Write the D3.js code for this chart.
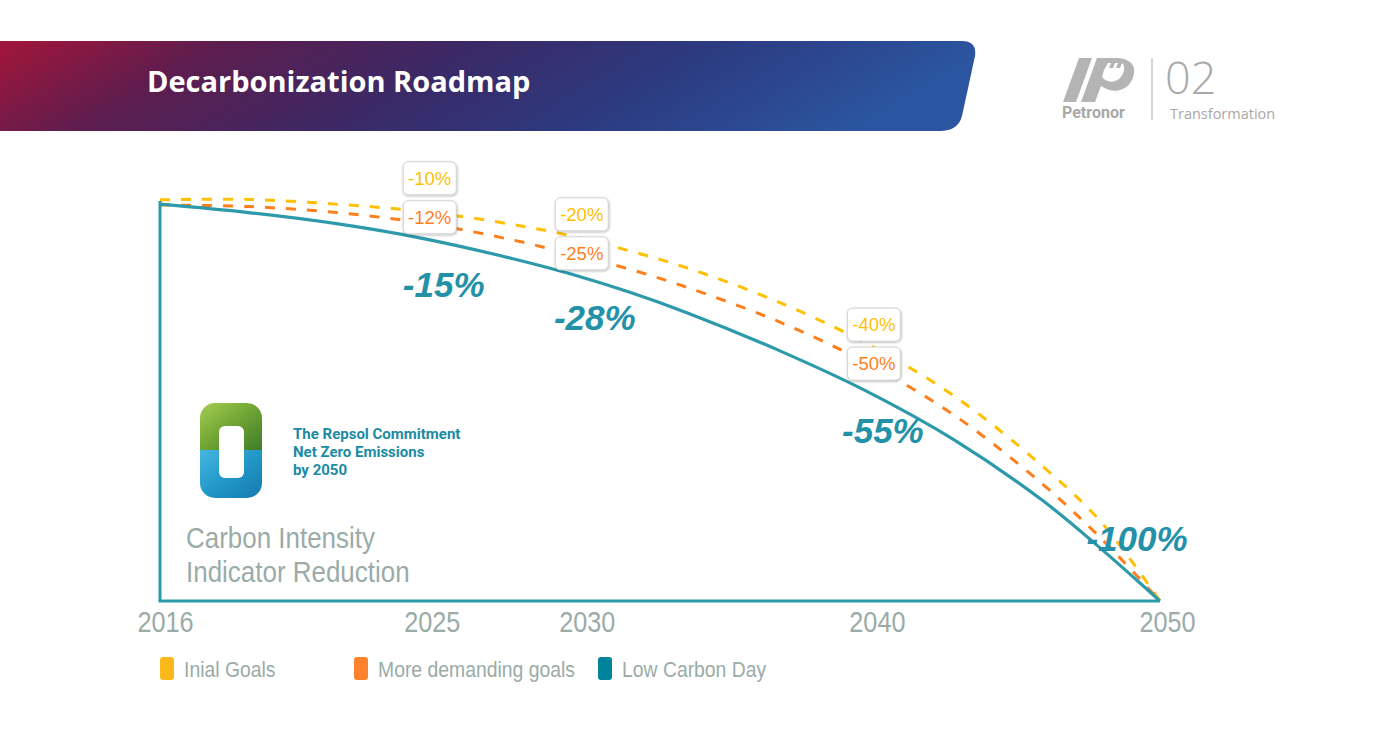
<!DOCTYPE html>
<html>
<head>
<meta charset="utf-8">
<script src="https://cdn.jsdelivr.net/npm/d3@7/dist/d3.min.js"></script>
<style>
  html, body { margin: 0; padding: 0; background: #ffffff; }
  svg { display: block; }
</style>
</head>
<body>
<svg id="chart" width="1382" height="754"></svg>
<script>
// ---------------- DATA ----------------
const years = [2016, 2019, 2022, 2025, 2028, 2030, 2032, 2034, 2037, 2040, 2043, 2046, 2048, 2050];
const initialGoals   = [100.8, 100.9, 99.7, 97.8, 94.6, 91.7, 87.9, 83.5, 75.2, 64.8, 51.5, 33.9, 19.8, 0];
const demandingGoals = [99.5, 99.1, 97.6, 94.9, 90.7, 87.1, 83.3, 78.6, 70.3, 59.9, 46.7, 29.4, 15.7, 0];
const lowCarbonDay   = [99.7, 97.6, 94.8, 91.0, 86.0, 82.1, 77.5, 72.2, 63.1, 52.8, 40.5, 25.3, 13.1, 0];

const tickYears = [2016, 2025, 2030, 2040, 2050];

const goalYears = [2025, 2030, 2040];
const initialLabels = ["-10%", "-20%", "-40%"];
const demandingLabels = ["-12%", "-25%", "-50%"];

const lowCarbonYears = [2025, 2030, 2040, 2050];
const lowCarbonLabels = ["-15%", "-28%", "-55%", "-100%"];

const legendItems = ["Inial Goals", "More demanding goals", "Low Carbon Day"];

// ---------------- LAYOUT / STYLE ----------------
const COL_Y = "#ffc000", COL_O = "#fd7f1c", COL_T = "#2d9aab", COL_TT = "#2391a8";
const GRAY = "#9aaba8";
const SANS = "'Liberation Sans', Arial, sans-serif";
const svg = d3.select("#chart");

const x = d3.scaleLinear().domain([2016, 2050]).range([160, 1160]);
const y = d3.scaleLinear().domain([0, 100]).range([601, 203]);

// squeeze a text horizontally (narrow face look)
function squeeze(sel, ratio) {
  sel.each(function () {
    const w = this.getComputedTextLength();
    d3.select(this).attr("textLength", w * ratio).attr("lengthAdjust", "spacingAndGlyphs");
  });
}

const defs = svg.append("defs");

// header gradient
const hg = defs.append("linearGradient").attr("id", "hdr").attr("x1", "0").attr("x2", "1").attr("y1", "0").attr("y2", "0.15");
[["0%", "#a3153a"], ["22%", "#5e1d4e"], ["48%", "#3b2966"], ["72%", "#2c3a80"], ["100%", "#2b55a0"]]
  .forEach(([o, c]) => hg.append("stop").attr("offset", o).attr("stop-color", c));

// shadow
const f = defs.append("filter").attr("id", "sh").attr("x", "-20%").attr("y", "-20%").attr("width", "150%").attr("height", "160%");
f.append("feDropShadow").attr("dx", 0.5).attr("dy", 1).attr("stdDeviation", 1.2).attr("flood-color", "#000").attr("flood-opacity", 0.3);

// repsol gradients
const gg = defs.append("linearGradient").attr("id", "grn").attr("x1", 0).attr("x2", 1).attr("y1", 0).attr("y2", 1);
[["0%", "#a6cc52"], ["45%", "#74a836"], ["100%", "#3d7c29"]].forEach(([o, c]) => gg.append("stop").attr("offset", o).attr("stop-color", c));
const bg = defs.append("linearGradient").attr("id", "blu").attr("x1", 0).attr("x2", 1).attr("y1", 0).attr("y2", 1);
[["0%", "#45b6df"], ["50%", "#2298c9"], ["100%", "#157aae"]].forEach(([o, c]) => bg.append("stop").attr("offset", o).attr("stop-color", c));
defs.append("clipPath").attr("id", "rclip").append("rect")
  .attr("x", 200).attr("y", 403).attr("width", 62).attr("height", 95).attr("rx", 15);

// ---------------- HEADER ----------------
svg.append("path")
  .attr("d", "M0,41 L962,41 Q977,41 975,56 L962,116 Q958,131 940,131 L0,131 Z")
  .attr("fill", "url(#hdr)");
svg.append("text").attr("x", 147).attr("y", 92)
  .attr("font-family", "'Open Sans', sans-serif").attr("font-weight", 700).attr("font-size", 29)
  .attr("fill", "#ffffff").text("Decarbonization Roadmap");

// Petronor logo
const lg = svg.append("g").attr("fill", "#b4b4b4");
lg.append("path").attr("d", "M1063,102 L1076,102 L1092,58 L1079,58 Z");
lg.append("path").attr("d", "M1081,102 L1095,102 L1101,86 C1112,94 1126,92 1132,80 C1138,68 1132,58 1116,58 L1097,58 Z");
svg.append("path").attr("d", "M1104,70 L1108,63 L1111,63 L1109,68 L1113,68 L1115,63 L1118,63 L1116,68 L1120,68 L1122,63 C1126,66 1124,74 1120,78 C1114,84 1106,82 1102,77 Z")
  .attr("fill", "#ffffff");
svg.append("text").attr("x", 1062).attr("y", 118)
  .attr("font-family", "Roboto, sans-serif").attr("font-weight", 700).attr("font-size", 16)
  .attr("fill", "#a8a8a8").text("Petronor");
svg.append("line").attr("x1", 1152).attr("x2", 1152).attr("y1", 58).attr("y2", 120)
  .attr("stroke", "#c8c8c8").attr("stroke-width", 1.5);
svg.append("text").attr("x", 1165).attr("y", 94)
  .attr("font-family", "'Open Sans', sans-serif").attr("font-weight", 300).attr("font-size", 45)
  .attr("fill", "#aaaaaa").text("02");
svg.append("text").attr("x", 1170).attr("y", 119)
  .attr("font-family", "'Open Sans', sans-serif").attr("font-size", 14.5)
  .attr("fill", "#a8a8a8").text("Transformation");

// ---------------- REPSOL BADGE ----------------
const rg = svg.append("g").attr("clip-path", "url(#rclip)");
rg.append("rect").attr("x", 200).attr("y", 403).attr("width", 62).attr("height", 47).attr("fill", "url(#grn)");
rg.append("rect").attr("x", 200).attr("y", 450).attr("width", 62).attr("height", 48).attr("fill", "url(#blu)");
svg.append("rect").attr("x", 219).attr("y", 426).attr("width", 25).attr("height", 52).attr("rx", 6).attr("fill", "#ffffff");
["The Repsol Commitment", "Net Zero Emissions", "by 2050"].forEach((t, i) => {
  svg.append("text").attr("x", 293).attr("y", 439 + i * 18)
    .attr("font-family", "Roboto, sans-serif").attr("font-weight", 700).attr("font-size", 15)
    .attr("fill", "#1b8ba3").text(t);
});

// ---------------- LINES ----------------
const line = d3.line().x(d => x(d[0])).y(d => y(d[1])).curve(d3.curveCatmullRom.alpha(0.5));
const series = [
  { vals: initialGoals, col: COL_Y, dash: "10,11", w: 3 },
  { vals: demandingGoals, col: COL_O, dash: "10,11", w: 3 },
  { vals: lowCarbonDay, col: COL_T, dash: null, w: 3.2 }
];
series.forEach(s => {
  svg.append("path").datum(years.map((yr, i) => [yr, s.vals[i]]))
    .attr("d", line).attr("fill", "none").attr("stroke", s.col)
    .attr("stroke-width", s.w).attr("stroke-dasharray", s.dash);
});

// axes frame
svg.append("line").attr("x1", x(2016)).attr("x2", x(2016)).attr("y1", y(100) - 2).attr("y2", y(0))
  .attr("stroke", COL_T).attr("stroke-width", 3);
svg.append("line").attr("x1", x(2016) - 1.5).attr("x2", x(2050)).attr("y1", y(0)).attr("y2", y(0))
  .attr("stroke", COL_T).attr("stroke-width", 3);

// x axis labels
const tickDx = [5, 7, 15, 11, 7];
const ax = svg.append("g").attr("transform", `translate(0,${y(0)})`)
  .call(d3.axisBottom(x).tickValues(tickYears).tickFormat(d3.format("d")).tickSize(0).tickPadding(8));
ax.select(".domain").remove();
ax.selectAll("text").attr("font-family", SANS).attr("font-size", 29).attr("fill", GRAY)
  .attr("dx", (d, i) => tickDx[i]).attr("dy", "0.78em").call(squeeze, 0.87);

// ---------------- GOAL BOXES ----------------
function valAt(vals, yr) { return vals[years.indexOf(yr)]; }
const BW = 53, BH = 33;
const boxDy = [-6, -1, 1];
goalYears.forEach((yr, i) => {
  const cx = x(yr) + [5, 10, 8][i];
  const cyO = y(valAt(demandingGoals, yr)) + boxDy[i];
  const cyY = cyO - 39;
  [[cyY, initialLabels[i], COL_Y], [cyO, demandingLabels[i], COL_O]].forEach(([cy, t, c]) => {
    svg.append("rect").attr("x", cx - BW / 2).attr("y", cy - BH / 2).attr("width", BW).attr("height", BH)
      .attr("rx", 5).attr("fill", "#ffffff").attr("stroke", "#d2d2d2").attr("stroke-width", 1).attr("filter", "url(#sh)");
    svg.append("text").attr("x", cx).attr("y", cy + 6.5).attr("text-anchor", "middle")
      .attr("font-family", SANS).attr("font-size", 18.5)
      .attr("fill", c).text(t);
  });
});

// ---------------- LOW CARBON LABELS ----------------
const lcOffsets = [[19, 58], [23, 56], [17, 52], [-23, -50]];
lowCarbonYears.forEach((yr, i) => {
  svg.append("text").attr("x", x(yr) + lcOffsets[i][0]).attr("y", y(valAt(lowCarbonDay, yr)) + lcOffsets[i][1])
    .attr("text-anchor", "middle")
    .attr("font-family", SANS).attr("font-weight", 700).attr("font-style", "italic")
    .attr("font-size", 35).attr("fill", COL_TT).text(lowCarbonLabels[i]);
});

// ---------------- AXIS TITLE ----------------
["Carbon Intensity", "Indicator Reduction"].forEach((t, i) => {
  svg.append("text").attr("x", 186).attr("y", 548 + i * 34)
    .attr("font-family", SANS).attr("font-size", 30).attr("fill", GRAY).text(t)
    .call(squeeze, 0.865);
});

// ---------------- LEGEND ----------------
const legCols = ["#fbb919", "#fd822b", "#00849c"];
const legX = [160, 354, 598];
legendItems.forEach((t, i) => {
  svg.append("rect").attr("x", legX[i]).attr("y", 657).attr("width", 14).attr("height", 23).attr("rx", 3)
    .attr("fill", legCols[i]);
  svg.append("text").attr("x", legX[i] + 24).attr("y", 677)
    .attr("font-family", SANS).attr("font-size", 22).attr("fill", GRAY).text(t)
    .call(squeeze, 0.88);
});
</script>
</body>
</html>
